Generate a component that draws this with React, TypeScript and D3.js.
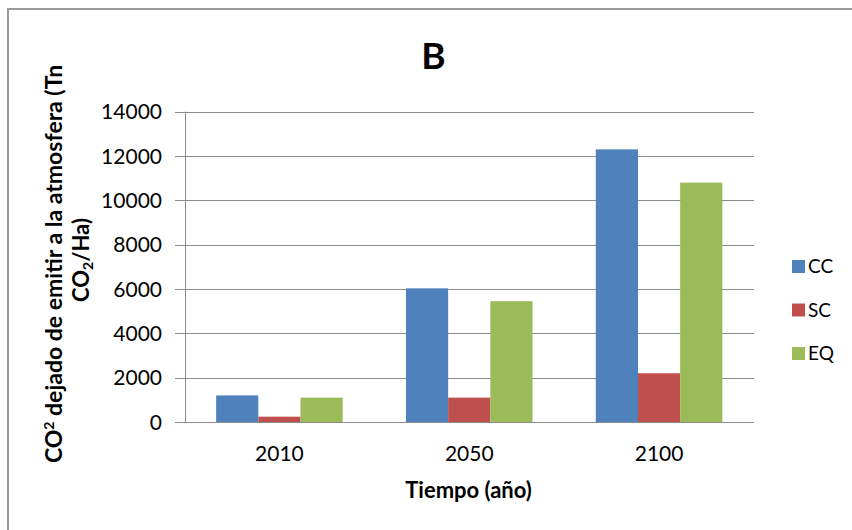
import React from "react";
import * as d3 from "d3";

const categories = ["2010", "2050", "2100"];
const seriesNames = ["CC", "SC", "EQ"];
const ccValues = [1200, 6030, 12300];
const scValues = [240, 1100, 2200];
const eqValues = [1100, 5450, 10800];
const yTicks = [0, 2000, 4000, 6000, 8000, 10000, 12000, 14000];
const colors = ["#4F81BD", "#C0504D", "#9BBB59"];

const W = 852;
const H = 530;
const FONT = "Lato, 'Open Sans', sans-serif";

export default function App() {
  const series = [ccValues, scValues, eqValues];
  const left = 184.5;
  const right = 754;
  const top = 111.7;
  const bottom = 422;

  const x0 = d3.scaleBand<string>().domain(categories).range([left, right]).padding(0);
  const x1 = d3
    .scaleBand<string>()
    .domain(seriesNames)
    .range([0, x0.bandwidth()])
    .paddingInner(0)
    .paddingOuter(0.75);
  const y = d3.scaleLinear().domain([0, 14000]).range([bottom, top]);

  const grid = "#8c8c8c";

  return (
    <svg
      width={W}
      height={H}
      style={{ position: "absolute", left: 0, top: 0, background: "#fff" }}
      fontFamily={FONT}
    >
      <rect x={0} y={0} width={W} height={H} fill="#fff" />
      <rect x={8} y={9} width={W + 20} height={H + 20} fill="none" stroke="#9a9a9a" strokeWidth={2} />

      {/* title */}
      <text x={433.5} y={69} textAnchor="middle" fontSize={37} fontWeight="bold" fill="#000">
        B
      </text>

      {/* gridlines and y ticks */}
      {yTicks.map((t) => (
        <g key={t}>
          <line x1={175} x2={right} y1={Math.round(y(t)) + 0.5} y2={Math.round(y(t)) + 0.5} stroke={grid} strokeWidth={1} />
          <text x={162} y={y(t)} dy="0.36em" textAnchor="end" fontSize={21} fill="#000">
            {t}
          </text>
        </g>
      ))}
      <line x1={Math.round(left) + 0.5} x2={Math.round(left) + 0.5} y1={y(14000)} y2={bottom} stroke={grid} strokeWidth={1} />

      {/* bars */}
      {categories.map((c, i) => (
        <g key={c}>
          {seriesNames.map((s, j) => {
            const v = series[j][i];
            const bx = (x0(c) as number) + (x1(s) as number);
            return (
              <rect
                key={s}
                x={bx}
                y={y(v)}
                width={x1.bandwidth()}
                height={bottom - y(v)}
                fill={colors[j]}
              />
            );
          })}
        </g>
      ))}

      {/* x axis line */}
      <line x1={175} x2={right} y1={Math.round(bottom) + 0.5} y2={Math.round(bottom) + 0.5} stroke={grid} strokeWidth={1.2} />

      {/* x tick labels */}
      {categories.map((c) => (
        <text key={c} x={(x0(c) as number) + x0.bandwidth() / 2} y={461} textAnchor="middle" fontSize={21} fill="#000">
          {c}
        </text>
      ))}

      {/* x title */}
      <text x={468.5} y={498} textAnchor="middle" fontSize={22} fontWeight="bold" fill="#000">
        Tiempo (año)
      </text>

      {/* y title */}
      <text transform="translate(62,264) rotate(-90)" textAnchor="middle" fontSize={23} fontWeight="bold" fill="#000">
        CO<tspan dy={-8} fontSize={14}>2</tspan>
        <tspan dy={8}> dejado de emitir a la atmosfera (Tn</tspan>
      </text>
      <text transform="translate(89,260) rotate(-90)" textAnchor="middle" fontSize={22} fontWeight="bold" fill="#000">
        CO<tspan dy={4} fontSize={14}>2</tspan>
        <tspan dy={-4}>/Ha)</tspan>
      </text>

      {/* legend */}
      {seriesNames.map((s, j) => (
        <g key={s} transform={`translate(792, ${260 + j * 43.5})`}>
          <rect x={0} y={0} width={13} height={13} fill={colors[j]} />
          <text x={16} y={13.3} fontSize={19} fill="#000">
            {s}
          </text>
        </g>
      ))}
    </svg>
  );
}
